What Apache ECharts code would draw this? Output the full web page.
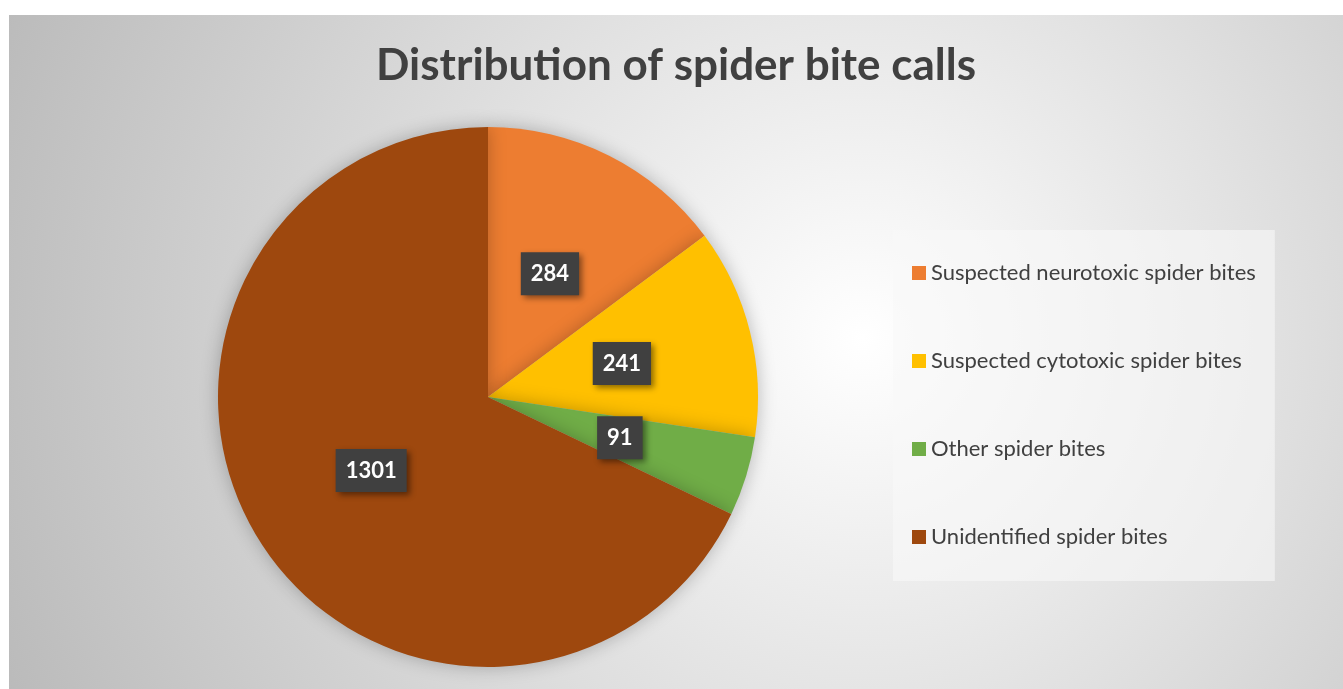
<!DOCTYPE html>
<html>
<head>
<meta charset="utf-8">
<title>Distribution of spider bite calls</title>
<script src="https://cdn.jsdelivr.net/npm/echarts@6/dist/echarts.min.js"></script>
<style>
  html, body { margin: 0; padding: 0; background: #ffffff; }
  #chart { position: absolute; left: 9px; top: 15px; width: 1334px; height: 674px; }
</style>
</head>
<body>
<div id="chart"></div>
<script>
// Spider bite call counts by category
const categories = [
  'Suspected neurotoxic spider bites',
  'Suspected cytotoxic spider bites',
  'Other spider bites',
  'Unidentified spider bites'
];
const callCounts = [284, 241, 91, 1301];
const sliceColors = ['#ED7D31', '#FFC000', '#70AD47', '#9E480E'];

const chart = echarts.init(document.getElementById('chart'), null, { renderer: 'canvas' });

const pieData = categories.map((name, i) => ({
  name: name,
  value: callCounts[i],
  itemStyle: { color: sliceColors[i] }
}));

chart.setOption({
  backgroundColor: {
    type: 'radial', x: 0.64, y: 0.48, r: 1.4,
    colorStops: [
      { offset: 0, color: '#ffffff' },
      { offset: 1, color: '#b9b9b9' }
    ]
  },
  title: {
    text: 'Distribution of spider bite calls',
    left: 'center',
    top: 24,
    textStyle: {
      fontFamily: 'Lato',
      fontWeight: 'bold',
      fontSize: 44,
      color: '#404040'
    }
  },
  legend: {
    orient: 'vertical',
    left: 884,
    top: 215,
    padding: [32, 19, 33, 19],
    itemGap: 66,
    itemWidth: 14,
    itemHeight: 14,
    icon: 'rect',
    backgroundColor: 'rgba(248,248,248,0.6)',
    textStyle: {
      fontFamily: 'Lato',
      fontSize: 22,
      lineHeight: 22,
      color: '#404040',
      padding: [0, 0, 0, 0]
    },
    data: categories
  },
  series: [{
    type: 'pie',
    center: [479, 382],
    radius: 270,
    startAngle: 90,
    clockwise: true,
    avoidLabelOverlap: false,
    silent: true,
    itemStyle: {
      shadowBlur: 18,
      shadowColor: 'rgba(0,0,0,0.25)'
    },
    label: {
      show: true,
      position: 'inside',
      formatter: '{c}',
      fontFamily: 'Lato',
      fontWeight: 'bold',
      fontSize: 22,
      color: '#ffffff',
      backgroundColor: '#404040',
      padding: [11, 10, 10, 10],
      shadowBlur: 6,
      shadowColor: 'rgba(0,0,0,0.45)',
      shadowOffsetX: 3,
      shadowOffsetY: 3
    },
    labelLine: { show: false },
    data: pieData
  }]
});
</script>
</body>
</html>
